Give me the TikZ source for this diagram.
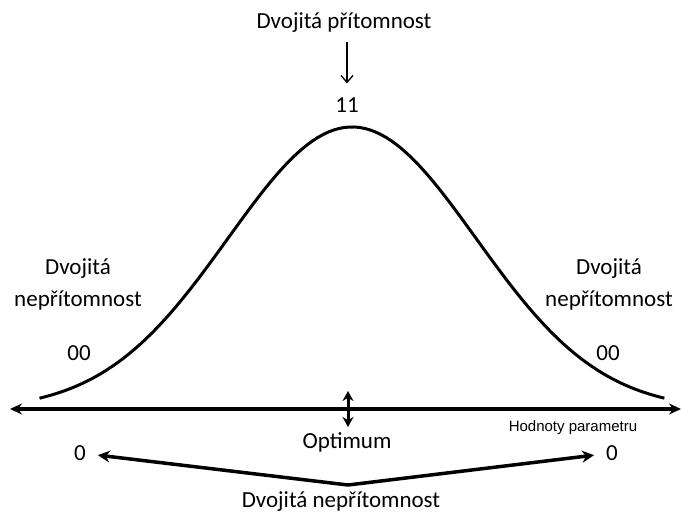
\documentclass[tikz,border=0pt]{standalone}
\usepackage{fontspec}
\setmainfont{Carlito}
\newfontfamily\arialfont{Liberation Sans}
\usetikzlibrary{arrows.meta}

\begin{document}
\begin{tikzpicture}[x=1pt, y=-1pt, inner sep=0pt,
  lbl/.style={font=\fontsize{23}{32}\selectfont, align=center},
  thickarrow/.style={line width=3.5pt, -{Stealth[length=12pt, width=12pt]}}]
  \useasboundingbox (0,0) rectangle (681,515);

  \node[lbl] (top) at (344,23) {Dvojitá přítomnost};
  \node[lbl] (peak) at (347,105) {11};
  \node[lbl] (leftabs) at (78,284) {Dvojitá\\nepřítomnost};
  \node[lbl] (rightabs) at (609,284) {Dvojitá\\nepřítomnost};
  \node[lbl] (leftzz) at (79,353) {00};
  \node[lbl] (rightzz) at (608,353) {00};
  \node[lbl] (optimum) at (347,442) {Optimum};
  \node[font=\arialfont\fontsize{15}{18}\selectfont] (param) at (573,428) {Hodnoty parametru};
  \node[lbl] (leftzero) at (80,453) {0};
  \node[lbl] (rightzero) at (612,453) {0};
  \node[lbl] (bottom) at (341,502) {Dvojitá nepřítomnost};

  \coordinate (axl) at (10,409);
  \coordinate (axr) at (681,409);
  \coordinate (opttop) at (348,391);
  \coordinate (optbot) at (348,427);
  \coordinate (meet) at (348,485);

  % the bell curve
  \draw[line width=3pt] plot[domain=-2.52:2.52, samples=120] ({352+124*\x}, {410-283*exp(-\x*\x/2)});

  \draw[line width=1.3pt, -{Straight Barb[length=7pt, width=12pt]}, shorten <=9pt, shorten >=14pt] (top.south -| peak.north) -- (peak.north);
  \draw[line width=3.5pt, {Stealth[length=12pt, width=11pt]}-{Stealth[length=12pt, width=11pt]}] (axl) -- (axr);
  \draw[line width=3pt, {Stealth[length=10pt, width=11pt]}-{Stealth[length=10pt, width=11pt]}] (opttop) -- (optbot);
  \draw[thickarrow, shorten >=12pt] (meet) -- (leftzero);
  \draw[thickarrow, shorten >=12pt] (meet) -- (rightzero);
\end{tikzpicture}
\end{document}
